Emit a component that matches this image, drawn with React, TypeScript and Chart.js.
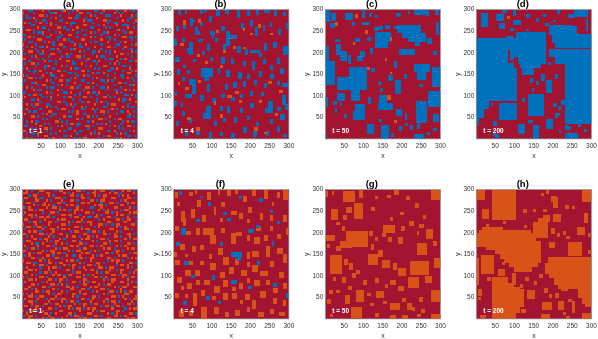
import React, { useEffect, useRef } from "react";
import { Chart, registerables } from "chart.js";
Chart.register(...registerables);

const RED = "#A2142F";
const BLUE = "#0072BD";
const ORANGE = "#D95319";

const xyTicks = [50, 100, 150, 200, 250, 300];

// hand-read cell maps for the two t = 1 panels: . red, b blue, o orange (top row is y = 300)
const gridA = [
"...bb....o..b.....bo...b.o.......bb..o.....b...o..bb.",
"o....b.......bbo.....b....oo..b.....b.....o.b.b......",
"..b.....oo.b.....b.......b.....o.b....bbb....o....o.b",
"b.bb.o.......b.o.....oo.bb...b....o........b.....bb..",
"......b..bb......bb.........o.bb.....oo.b.....o.b...o",
".o.b....o..b.o......o.bbb.......b......b..bb.......b.",
"....bb.......o.b......b.....oo.....b.o.....o..bbb....",
"b......o.bb.....oo.b.....o.....bb.....b.b.......o..b.",
"..oo.b......b.......bb.o...b.b.....o.......bo.b......",
".....b.bbo.....b.o.......b.....o.b...bbo.......b.oo..",
"bb.......b...o....b..oo.....bb......b.....o.b........",
"...o.b.....bb...bb.......b.....o.b.....bb.....oo.bb.b",
".b.....oo.......b..o.b.....oo.......o...b.b.......b..",
"...bb.....b.o.b.......bb.......b.bb....o.....b.o.....",
"o.....b.......b..oo.....o.b..o......b......bb.....b.o",
"..b.o...bb.o.......b......bb.....o.....oo.b....o.....",
"b.....b......bb.o.....bbo.....b.....b.........b..bb..",
"...oo..b.o.......b........o.b...bb.o..b.b.o.......o.b",
".b......bb...oo.....o.b.........b.......b....oo.b....",
"....b.o.....b.....b.bb...oo.b.....o.bb.....o......b..",
"oo.....b.b.......o........b...o.......b.bb...b.o.....",
"...b......o.bb.b....oo.b.....b..bb.o.......o.....bb.o",
".b..oo.b.......b.......bb..o......b.....b.o.b........",
"......b...bbo.....o.b........b.o.....oo.......bb.b...",
"b.o.......b...b.......o.bb.......b.b.....b.o.....o...",
"...b.bb.o.......oo.b.......oo.b........bb.....b...b.o",
".....b.....b.o.......bb.b.......o.bb.o....b.....oo...",
"o.b......o...bb...o......b..o.b........b.....bb.....b",
"...oo.b.b......b......b.o.......b.o.......o...b.o.b..",
".b.........o.b...oo.bb.....bb.......bb.o.b.........b.",
"....bbo.......b.........o.....b.o.....b.....oo.b.....",
"b......b.oo.....b.o.b.....b.......b.......b......bbo.",
"..o.b......b.bb.......oo.b...oo.b...bb.o.....b.......",
".....o.bb.......o.b.........b.........b...bb...o.b.o.",
"bb.........o.b.....bb.o...b...o.bb.o.......o.b.......",
"...b.oo.b.......o.......b.b.......b....b.......bb.o.b",
".o.......b.b.o.....b.oo.....oo.b.....oo.b.b.........b",
"....bb.o.....b.........b..b.......b.........o.bb.o...",
"b.......b.......oo.b.......bb.o...b.o.b.......b.....o",
"..o.b.oo...bb.......b.o.b........o.....b.oo.....b....",
".....b.....o.b.b.......b...o.b.......bb.......o.b.bb.",
"b.o.....b.......b.oo.......bb...o.b......o.b.........",
"...b.bb.....oo.......b.b.o.......b..oo.b.....bb.o..b.",
".o.......b.o..bb.........o..bb.......b.....b.....o...",
"....oo.b.....b.....o.bb.......o.b.b.....o.......bb.b.",
"b........b.b.....b.......o.b.......oo.b...b.oo.......",
"..b.o.bb.......oo.b.b.........b.o.......b.....b.o.bb.",
"......o...b.b.......b.oo.bb.......b.b.o......b.......",
".bb.....o.......b.o......b...oo.b.......b.o.b...oo.b.",
"....b.b...oo.b.......bb.......b....oo.......b.b......",
"oo.........b.....o.b....o.bb.....b.....bb.o......b.o.",
"..b.bb.o.....b.b.........b.....o.b.o.......b.o.b.....",
".......b..oo.......bb.o......b.......b.oo.......bb..b",
"b.o.b.......b.o.........b.b.oo.....b.......b.o.......",
];

const gridE = [
"..o.b...oo.....b.oo......oo.b....o..oo...b....o.oo.b.",
"ooo....b...oo......o.b.o......b.oo......o.oo.b.....o.",
"...b.oo.....o.b.......oo.b.o.....o.b.oo.....b.o.o....",
".oo...o.bb.....ooo.b.......oo.b......o...oo.....oo.b.",
"b.....oo...o.b....o...oo.b.....oo.b.oo.......b.o.....",
"..oo.b....o.....oo.b.......oo.o.....b...oo.b....o.oo.",
".....o.b.oo.o.b.....o.oo.b.......o.oo.b......oo.b....",
"ob.o.......o..oo.b.......o.....bb...o.....oo.....o.b.",
"...oo.b.oo.......o.o.bb.oo.o.......o.b.o.....b.oo....",
".o.......b...oo.b.......o....oo.b.....oo.b.o.....o.oo",
"b..oo.o.....b.....oo.oo...b.......o.b......o.oo.b....",
"....o.b.oo.oo.b.......b.oo..o.bb.oo....oo.b.....o..b.",
".oo.......o.....o.oo.......o.......b.o.....oo.b.oo...",
"...b.oo.b...oo.b.....o.b.oo.b.oo.......oo......o....b",
"o.....o.....o.....oo.b.........o...oo.b..b.oo.....oo.",
"..oo.b.oo.b.....o.......oo.b.....b.o.......o.b.o.....",
".b.......o...oo.b.oo.o.....o.oo.........oo.....oo.b..",
"...o.oo.b.....o.......b.oo....b.oo.b.o.....o.b.......",
"oo......oo.b.o...oo.b.......oo.......oo.b.o.....oo.b.",
"..b.o.......o.b.....o..oo.b...o.b.o.......oo.b...o...",
".....oo.b.oo.....o.b.......o.oo.....oo.b.......o.b.oo",
"b.oo.......o.b.oo......oo.b.....o.b.....o.oo.b.......",
"....o.bb.o.....o..o.b.....oo.b.......oo.b.......oo.b.",
".o.....o...oo.b.......oo.o.....oo.b.o......o.b.o.....",
"..b.oo.b.......o.b.oo.....b.oo.......o.oo.b.....o.oo.",
"oo.......o.b.oo......o.b.oo....b.o.b.......oo.b......",
"...o.b.oo.....o.oo.b.......o.oo.......oo.b.o.....b.oo",
".b.o.......oo.b.....o..bb.o.....o.b.o.......o.oo.....",
"....oo.b.o.....oo.b.......oo.b.oo......oo.b.....b.o.o",
"o.......o.b.o.......o.oo.b.....o.......b.o.oo.b......",
"..oo.bb.....oo.b.oo.......o.b.....oo.b.....o.....oo.b",
".....o..oo.b.......o.b.oo.....oo.b.o.......b.oo.o....",
"b.o.....b...o.oo.b.....o..b.o......oo.b.oo......o.b..",
"...oo.o.....o.......oo.b.....o.oo.b.....o..b.oo.....o",
".oo.....b.oo.b.o.......b.oo.......o.b.oo.....o...b.o.",
"....o.b.......o.oo.b.oo.....o.b.o........oo.b.oo.....",
"o.b.....oo.b.......o.....oo.b....oo.b.o.......o.b.oo.",
"...oo.o.....oo.b.oo.b.......oo.......o.b.oo.....o....",
".o.......b.o.....o.....oo.b.o.b.oo.......o...oo.b.o.b",
"b...oo.b.....oo.b.o.b.......oo.....o.b.oo.......o....",
"...o.....oo.b.......oo.o.b.....o.oo.......o.b.oo...oo",
".oo.b.o.......o.b.....oo...oo.b.....oo.b.....o.......",
"......oo.b.oo.....o.b.....o.....b.o.....oo.b.o.b.oo..",
"o.b.o.......o.b.oo.....oo.b.oo.......o.b.......oo....",
"...oo.b.oo.....o.......o.b......oo.b.....oo.b.o.....o",
".o.....o...b.oo.b.oo.......oo.b.o.....oo.......o.b.oo",
"b..oo.b.....o.....o.b.oo.b.....o.....o.b.oo.b.....o..",
"....o.....oo.b.oo.......o.b.oo.b.oo.......o.....oo.b.",
".oo.b.oo.b.......o.b.oo.....o.......b.oo.b.oo.b......",
"......o.....oo.b.....o.b.oo.b.o.oo.......o.....b.o.oo",
"o.b.oo.b.o.......oo.......o.....o.b.oo.....oo.b......",
"..o.......oo.b.o.....oo.b.....oo.......o.b.o.....oo.b",
".b.oo.b.....o.......o.b.oo.b.....oo.b.....oo.b.o.....",
"...o.....o.b.oo.b.o.......o.oo.b.......oo.......o.oo.",
];

// cell blocks, each [x0, x1, y0, y1]
const blueB = [
[12,20,287,300],[30,36,290,300],[44,50,262,280],[50,56,270,276],[70,76,290,300],[80,88,295,300],[92,100,270,285],[112,120,285,300],[135,145,290,300],[165,172,280,298],[190,198,285,300],[215,222,288,300],[235,250,292,300],[262,270,285,298],[285,292,285,295],
[8,14,250,262],[26,32,255,265],[55,63,240,260],[63,70,242,250],[70,78,262,270],[95,108,240,250],[100,106,232,240],[125,133,250,262],[138,146,215,250],[146,165,232,240],[175,183,255,268],[200,208,262,275],[212,220,238,260],[232,238,250,265],[250,256,260,272],[272,280,240,255],[292,300,255,268],
[3,10,215,232],[22,30,225,235],[42,50,195,225],[36,42,200,210],[65,78,224,232],[88,96,205,220],[108,115,225,235],[130,137,205,220],[165,175,200,215],[185,195,195,208],[198,225,200,206],[235,243,205,222],[258,268,210,225],[284,300,195,215],[222,230,190,200],
[5,18,178,190],[25,33,165,172],[52,60,178,186],[75,83,195,205],[95,103,180,190],[125,133,175,190],[150,158,175,185],[180,188,170,180],[205,213,160,180],[232,240,175,185],[250,258,160,172],[270,278,175,188],
[10,18,148,162],[35,43,150,160],[72,102,145,165],[80,92,135,150],[115,122,150,165],[138,146,145,160],[168,178,140,155],[192,200,140,150],[222,230,145,158],[250,262,140,150],[278,286,150,165],
[40,60,125,140],[48,58,105,125],[22,30,135,145],[88,95,110,128],[135,143,115,128],[155,165,118,132],[180,188,120,135],[210,218,125,138],[235,243,118,130],[282,300,120,130],[268,276,125,135],
[5,10,100,110],[30,48,95,105],[68,80,88,102],[100,110,85,95],[125,135,95,105],[150,160,88,98],[172,180,95,105],[198,206,100,112],[228,236,100,110],[282,292,80,102],[290,298,68,82],
[3,10,78,88],[20,26,75,85],[85,97,62,78],[76,98,47,62],[120,128,65,78],[140,148,60,78],[172,180,62,72],[200,210,72,85],[238,258,62,72],[245,260,72,88],[270,280,65,75],[22,30,55,65],
[8,16,30,42],[40,48,38,50],[105,113,30,42],[128,136,40,50],[158,166,38,52],[190,198,45,55],[215,223,30,40],[250,258,35,48],[278,290,45,58],
[30,38,8,22],[60,70,10,22],[92,100,3,18],[120,128,8,18],[150,160,3,15],[180,190,15,28],[208,216,5,20],[240,248,8,20],[268,276,18,30],[285,295,5,12],
];
const orangeB = [
[25,33,265,275],[65,72,268,278],[18,28,215,222],[62,68,190,198],[82,90,175,182],[110,118,245,252],[130,138,200,207],[155,163,208,215],[120,130,165,172],[180,186,250,258],[200,208,240,246],[220,228,258,266],[250,258,240,246],[30,40,115,122],[65,72,130,138],[140,152,95,102],[160,170,105,112],[120,128,50,58],[60,70,20,28],[35,45,45,52],[210,220,20,28],[170,178,85,92],[245,255,128,135],[275,285,108,115],[235,243,12,18],[180,188,208,214],[105,112,80,88],[12,18,125,132],[265,272,55,62],[222,230,85,92],
];
const blueF = [
[15,22,288,296],[70,78,280,286],[90,98,262,270],[20,32,195,210],[130,140,240,248],[140,150,228,235],[170,178,278,285],[215,225,210,218],[195,210,200,208],[222,232,272,280],[250,258,245,252],[165,175,135,145],[150,178,145,155],[120,130,170,178],[8,18,170,178],[28,42,125,135],[45,55,95,102],[100,108,92,102],[150,165,82,90],[195,205,70,78],[260,270,75,85],[292,300,50,62],[85,95,45,55],[25,35,32,42],[115,125,35,42],[218,226,125,135],[255,262,170,180],[270,278,220,228],[60,68,225,232],
];
const orangeF = [
[20,30,225,250],[26,34,215,235],[5,12,280,295],[42,52,285,295],[62,72,260,275],[88,98,275,295],[115,122,288,298],[140,150,285,300],[180,190,270,285],[205,215,285,298],[235,245,278,300],[270,278,280,295],[285,298,275,300],[55,62,290,298],[160,168,290,298],[255,262,262,272],[125,133,260,270],[10,18,262,270],
[45,55,235,255],[75,85,225,240],[105,112,240,260],[150,165,240,250],[170,180,232,245],[195,205,245,260],[225,232,230,245],[250,260,228,240],[285,295,225,240],[120,130,225,235],[190,198,222,232],
[5,15,205,215],[30,45,195,205],[60,70,195,210],[78,105,195,210],[95,110,175,195],[125,135,200,210],[150,162,175,200],[162,178,192,202],[190,200,180,195],[210,225,175,190],[235,245,180,195],[268,280,185,198],[292,300,195,210],[215,228,205,215],[250,258,205,215],
[18,30,160,175],[48,58,155,170],[70,80,160,172],[115,128,148,165],[130,145,125,145],[160,170,125,140],[190,198,140,155],[205,222,145,158],[240,250,145,170],[270,285,150,165],[285,295,130,150],[3,10,145,155],[30,38,145,152],[92,100,140,150],
[5,18,125,138],[30,45,100,115],[55,70,100,115],[70,80,125,135],[95,110,115,130],[120,135,95,110],[145,158,105,122],[175,190,100,115],[205,220,110,125],[225,245,100,112],[250,262,120,135],[275,288,95,110],[40,50,125,135],[192,200,122,132],
[10,22,85,98],[35,48,70,85],[60,70,80,92],[80,95,80,92],[105,120,62,78],[130,142,75,90],[170,180,70,85],[210,225,78,92],[240,252,80,92],[285,295,70,85],[20,28,68,76],[152,162,65,75],[190,200,85,95],[260,272,62,72],
[5,15,50,62],[50,62,30,60],[72,82,55,68],[130,142,45,62],[152,165,48,60],[185,200,45,58],[205,215,25,45],[225,240,50,65],[258,270,35,50],[285,292,30,45],[30,38,50,58],[100,110,45,55],[172,180,35,45],
[15,28,5,22],[40,52,8,20],[72,88,0,28],[105,118,12,28],[135,145,5,18],[160,172,8,22],[190,200,18,28],[220,235,5,18],[250,262,12,25],[275,290,8,18],
];
const blueC = [
[0,12,270,300],[17,28,274,292],[52,72,275,292],[14,25,257,268],[70,78,261,270],[95,118,264,272],[130,138,280,288],[97,105,280,298],[115,122,283,292],[185,197,282,292],[215,222,290,296],[230,262,288,300],[262,270,285,298],[285,295,288,300],
[157,168,255,265],[180,190,255,262],[288,296,240,270],[92,105,190,205],[128,138,250,260],
[27,38,225,232],[77,92,225,235],[108,120,228,236],[60,68,175,195],[83,100,180,192],[118,125,198,210],[138,152,252,262],[265,277,220,235],[280,290,195,205],[235,248,215,228],[120,130,155,165],
[0,10,170,215],[0,25,125,180],[30,43,195,220],[38,57,180,205],[130,165,212,247],[165,172,225,247],[188,250,245,265],[215,262,225,245],[200,235,235,265],[192,235,194,208],[232,272,155,175],[240,262,137,155],[277,300,120,167],[180,188,165,180],
[32,108,113,143],[62,108,143,167],[138,145,125,135],[165,178,135,148],[182,198,105,138],[205,212,140,150],[245,255,120,128],[268,300,75,112],[142,150,110,118],
[0,8,75,97],[20,32,80,88],[38,44,78,84],[32,53,88,108],[68,90,89,117],[112,120,82,98],[236,265,38,88],[140,160,80,103],[137,178,67,85],[72,103,44,65],[78,103,65,82],
[184,200,53,71],[208,214,45,60],[280,297,41,59],[25,32,60,72],[50,58,50,58],[140,148,40,48],[108,127,12,36],[145,166,0,32],[230,258,0,13],[192,200,20,30],[208,215,30,38],[222,228,22,32],[240,246,25,35],[280,290,20,26],[0,5,5,15],[172,180,5,15],[265,272,10,16],
];
const orangeC = [
[78,86,280,290],[26,33,262,270],[103,112,243,252],[72,78,218,224],[155,162,182,188],[110,116,160,166],[168,174,152,156],[160,172,92,102],[180,186,38,44],[170,175,228,236],
];
const blueD = [
[0,107,88,235],[0,35,70,88],[0,20,50,70],[0,8,32,50],[103,181,175,247],[115,170,165,175],[120,150,148,165],
[190,250,240,265],[197,262,222,240],[250,262,240,262],[205,300,212,222],[262,300,222,244],[190,300,190,208],[205,300,175,190],[231,300,35,175],
[14,32,260,292],[52,72,273,290],[95,118,265,275],[95,104,285,300],[68,80,293,300],[130,140,280,290],[155,165,272,280],[175,182,282,290],[210,218,290,298],[240,254,280,290],[255,290,282,300],[285,292,250,278],[180,190,262,268],[200,208,270,276],[60,75,255,268],[88,98,250,258],[130,138,250,256],[78,98,226,238],
[140,147,130,142],[155,165,125,135],[170,180,135,150],[182,198,108,138],[145,150,110,118],[205,212,140,150],[188,196,172,178],
[135,178,53,104],[59,106,45,84],[109,128,12,36],[148,165,1,32],[230,265,0,14],[183,200,23,48],[135,147,38,45],[45,55,30,42],[38,45,78,84],[120,128,86,95],[205,212,50,60],[200,210,75,85],[212,220,68,78],[212,218,54,60],[222,230,80,92],[232,238,22,32],[240,246,22,30],[265,272,28,36],[280,288,18,25],[50,60,2,12],[72,82,0,4],[45,52,8,14],[215,222,15,22],
];
const redPatchD = [
[83,88,176,207],[88,100,176,183],[100,108,165,190],
];
const orangeD = [[80,88,278,286]];
const orangeG = [
[47,77,272,296],[276,300,275,300],[15,33,230,256],[75,99,232,268],[55,71,245,260],[152,182,200,217],[56,112,166,205],[40,70,165,180],[2,25,180,195],[238,266,148,176],[12,45,105,148],[112,138,126,151],[147,168,118,137],[221,269,103,135],[282,300,118,141],[190,210,100,118],[216,244,72,97],[260,277,83,100],[80,101,40,67],[51,66,35,56],[69,97,3,29],[170,195,21,38],[212,226,22,38],[275,300,40,67],[275,300,0,13],[132,153,50,66],
[2,8,282,296],[18,24,288,296],[88,98,280,298],[120,130,250,260],[130,138,278,286],[162,172,280,288],[180,192,288,298],[195,205,240,248],[210,220,275,285],[235,245,258,268],[255,262,232,242],[170,178,228,236],[218,230,215,228],[198,208,205,215],[190,202,175,190],[165,175,178,190],[238,245,195,205],[262,280,185,208],[245,258,210,220],[280,292,170,180],[48,58,230,240],[45,52,205,215],[30,40,218,225],[115,125,193,203],[130,138,180,190],[148,158,190,200],[138,152,145,160],[120,128,160,175],[28,42,158,170],[5,12,165,175],[50,60,125,140],[62,72,115,130],[80,90,105,115],[22,30,88,98],[45,55,85,98],[70,80,95,108],[100,110,80,92],[130,140,85,95],[155,165,72,82],[170,185,80,90],[190,205,65,78],[178,186,115,130],[245,255,40,52],[225,235,20,28],[250,260,15,25],[200,210,40,50],[110,120,55,62],[118,128,30,38],[150,160,35,42],[130,140,5,15],[30,38,60,68],[10,20,58,68],[5,15,35,48],[12,20,5,12],[60,70,68,78],[170,185,0,10],[200,215,0,10],[240,250,5,12],
];
const orangeH = [
[43,104,230,300],[0,23,275,300],[276,300,272,300],[16,35,232,254],
[25,35,213,221],[15,70,207,213],[8,143,199,207],[3,157,180,199],[3,170,167,180],[25,170,160,167],[50,170,150,160],[62,170,140,150],[72,170,130,140],[85,160,120,130],[100,145,110,120],
[148,187,188,226],[160,191,226,235],[175,191,235,242],
[13,48,105,149],[0,9,80,141],
[43,83,85,97],[43,100,75,85],[43,126,29,69],[43,115,69,75],[43,115,15,29],[43,105,0,15],
[188,300,130,143],[180,300,105,130],[190,300,95,105],[203,300,80,95],[213,300,71,80],
[238,275,147,178],[265,300,50,70],[275,300,35,50],[283,300,28,35],[275,300,0,15],[172,197,21,39],[213,228,22,42],[133,154,48,67],[94,104,79,108],[58,75,100,116],[200,222,224,244],[263,283,194,213],
[195,208,270,285],[200,212,258,282],[182,190,290,298],[170,178,285,292],[232,242,255,265],[250,258,255,262],[280,292,222,245],[210,218,190,200],[195,205,198,210],[225,235,195,205],[235,245,185,192],[290,300,190,200],[190,205,165,178],[122,132,245,255],[148,156,248,254],[175,185,248,256],[70,78,220,228],[125,132,210,218],[290,300,150,160],[68,75,125,132],[128,138,88,98],[150,158,80,88],[165,175,95,105],[178,186,60,72],[115,122,72,82],[30,38,88,98],[5,15,55,70],[5,12,45,52],[190,198,50,58],[205,215,50,60],[238,250,40,48],[250,258,15,42],[225,235,10,18],[222,238,65,71],[118,130,15,25],[170,192,0,12],[235,245,0,8],[10,25,2,10],
];

const titles = ["(a)", "(b)", "(c)", "(d)", "(e)", "(f)", "(g)", "(h)"];
const stamps = ["t = 1", "t = 4", "t = 50", "t = 200", "t = 1", "t = 4", "t = 50", "t = 200"];

type Block = number[];

function gridToBlocks(rows: string[], mark: string): Block[] {
  const out: Block[] = [];
  const sy = 300 / rows.length;
  rows.forEach((row, r) => {
    const sx = 300 / row.length;
    [...row].forEach((c, i) => {
      if (c === mark) out.push([i * sx, (i + 1) * sx, 300 - (r + 1) * sy, 300 - r * sy]);
    });
  });
  return out;
}

const layers: { blocks: Block[]; color: string }[][] = [
  [{ blocks: gridToBlocks(gridA, "b"), color: BLUE }, { blocks: gridToBlocks(gridA, "o"), color: ORANGE }],
  [{ blocks: blueB, color: BLUE }, { blocks: orangeB, color: ORANGE }],
  [{ blocks: blueC, color: BLUE }, { blocks: orangeC, color: ORANGE }],
  [{ blocks: blueD, color: BLUE }, { blocks: redPatchD, color: RED }, { blocks: orangeD, color: ORANGE }],
  [{ blocks: gridToBlocks(gridE, "b"), color: BLUE }, { blocks: gridToBlocks(gridE, "o"), color: ORANGE }],
  [{ blocks: orangeF, color: ORANGE }, { blocks: blueF, color: BLUE }],
  [{ blocks: orangeG, color: ORANGE }],
  [{ blocks: orangeH, color: ORANGE }],
];

const PLOT_W = 115.2;
const PLOT_H = 129.4;
const TOP = 9.5;
const CANVAS_W = 146;
const CANVAS_H = 160;
const lefts = [0, 152, 303, 454];
const axisWidths = [22.3, 21.7, 22.3, 22.3];
const tops = [0, 180.2];

const blockPlugin = {
  id: "blocks",
  beforeDatasetsDraw(chart: any) {
    const { ctx, chartArea: a, scales } = chart;
    ctx.save();
    ctx.beginPath();
    ctx.rect(a.left, a.top, a.width, a.height);
    ctx.clip();
    ctx.fillStyle = RED;
    ctx.fillRect(a.left, a.top, a.width, a.height);
    chart.data.datasets.forEach((ds: any) => {
      ctx.fillStyle = ds.backgroundColor;
      ds.data.forEach((p: any) => {
        const x0 = Math.round(scales.x.getPixelForValue(p.x0));
        const x1 = Math.round(scales.x.getPixelForValue(p.x1));
        const y0 = Math.round(scales.y.getPixelForValue(p.y0));
        const y1 = Math.round(scales.y.getPixelForValue(p.y1));
        ctx.fillRect(x0, y1, x1 - x0, y0 - y1);
      });
    });
    ctx.restore();
  },
  afterDatasetsDraw(chart: any, _a: any, opts: any) {
    const { ctx, chartArea: a, scales } = chart;
    ctx.save();
    ctx.strokeStyle = "#8a8a8a";
    ctx.lineWidth = 0.7;
    ctx.strokeRect(a.left, a.top, a.width, a.height);
    ctx.fillStyle = "#ffffff";
    ctx.font = "bold 6.5px 'Liberation Sans'";
    ctx.textBaseline = "middle";
    ctx.fillText(opts.stamp, scales.x.getPixelForValue(19), scales.y.getPixelForValue(18));
    ctx.restore();
  },
};

function Panel({ index }: { index: number }) {
  const ref = useRef<HTMLCanvasElement>(null);
  useEffect(() => {
    const col = index % 4;
    const axisW = axisWidths[col];
    const tickFont = { family: "'Liberation Sans'", size: 6.5 };
    const titleFont = { family: "'Liberation Sans'", size: 7 };
    const scaleBase = {
      type: "linear" as const,
      min: 1,
      max: 300,
      afterBuildTicks: (s: any) => {
        s.ticks = xyTicks.map((value) => ({ value }));
      },
      grid: { display: false, drawTicks: false },
      border: { display: false },
    };
    const chart = new Chart(ref.current as HTMLCanvasElement, {
      type: "scatter",
      data: {
        datasets: layers[index].map((layer, i) => ({
          label: "state " + i,
          backgroundColor: layer.color,
          pointRadius: 0,
          parsing: false,
          data: layer.blocks.map(([x0, x1, y0, y1]) => ({ x: (x0 + x1) / 2, y: (y0 + y1) / 2, x0, x1, y0, y1 })),
        })) as any,
      },
      options: {
        animation: false,
        responsive: false,
        events: [],
        layout: { padding: { left: 0, right: CANVAS_W - axisW - PLOT_W, top: 0, bottom: 0 } },
        plugins: {
          legend: { display: false },
          tooltip: { enabled: false },
          title: {
            display: true,
            text: titles[index],
            color: "#000000",
            font: { family: "'Liberation Sans'", size: 9.5, lineHeight: 1, weight: "bold" },
            padding: 0,
          },
          blocks: { stamp: stamps[index] },
        } as any,
        scales: {
          x: {
            ...scaleBase,
            ticks: { font: tickFont, color: "#333333", padding: 3, maxRotation: 0, autoSkip: false },
            title: { display: true, text: "x", color: "#333333", font: titleFont, padding: { top: 2, bottom: 0 } },
            afterFit: (s: any) => { s.height = CANVAS_H - TOP - PLOT_H; },
          },
          y: {
            ...scaleBase,
            ticks: { font: tickFont, color: "#333333", padding: 2, autoSkip: false },
            title: { display: true, text: "y", color: "#333333", font: titleFont, padding: 0 },
            afterFit: (s: any) => { s.width = axisW; },
          },
        } as any,
      },
      plugins: [blockPlugin],
    } as any);
    return () => chart.destroy();
  }, [index]);
  const col = index % 4;
  const row = index < 4 ? 0 : 1;
  return (
    <canvas
      ref={ref}
      width={CANVAS_W}
      height={CANVAS_H}
      style={{ position: "absolute", left: lefts[col], top: tops[row], width: CANVAS_W, height: CANVAS_H }}
    />
  );
}

export default function App() {
  return (
    <div style={{ position: "absolute", left: 0, top: 0, width: 598, height: 339, background: "#fff", overflow: "hidden" }}>
      {titles.map((_, i) => (
        <Panel key={i} index={i} />
      ))}
    </div>
  );
}
